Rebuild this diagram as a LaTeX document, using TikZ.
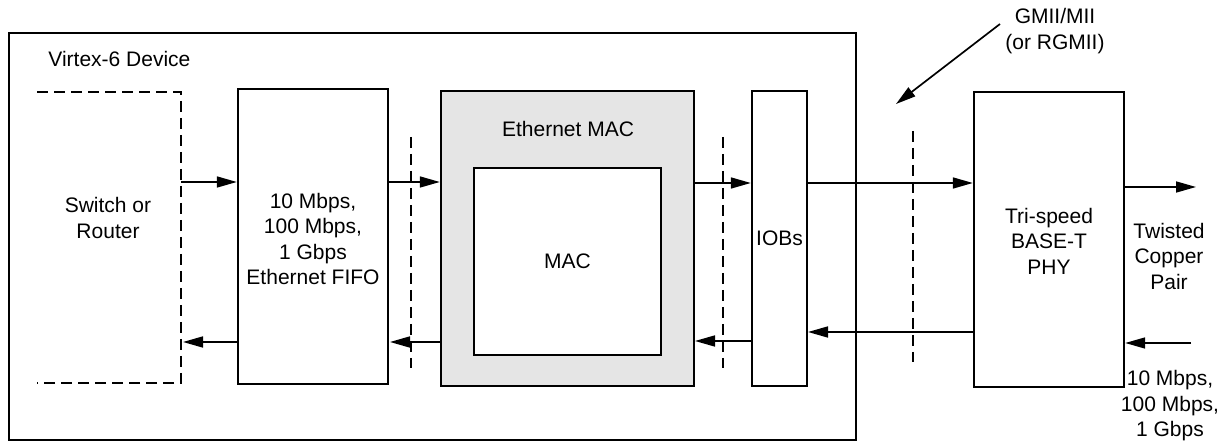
\documentclass[tikz,border=0pt]{standalone}
\usepackage{fontspec}
\setmainfont{Liberation Sans}
\usetikzlibrary{arrows.meta}
\begin{document}
\begin{tikzpicture}[x=0.5pt,y=-0.5pt,
  every node/.append style={font=\fontsize{10.5}{12.75}\selectfont, align=center},
  blk/.style={draw, line width=1.2pt, inner sep=0pt, rectangle},
  arr/.style={line width=0.85pt, -{Triangle[length=10pt,width=5.5pt]}},
  dsh/.style={line width=0.55pt, dash pattern=on 5.5pt off 3pt},
  lbl/.style={inner sep=0pt}]
\useasboundingbox (0,0) rectangle (1225,442);
% device outline
\node[blk, minimum width=423.5pt, minimum height=203.5pt] (dev) at (432.5,236.5) {};
\node[lbl, anchor=west] (devlbl) at (48,59) {Virtex-6 Device};
% switch / router (dashed, open on the left)
\coordinate (swnw) at (37,92);
\coordinate (swne) at (181,92);
\coordinate (swse) at (181,383);
\coordinate (swsw) at (37,383);
\draw[dsh] (swnw) -- (swne) -- (swse) -- (swsw);
\node[lbl] (sw) at (108,218) {Switch or\\Router};
% boxes
\node[blk, minimum width=75pt, minimum height=147.5pt] (fifo) at (313,236.5) {};
\node[lbl] (fifotxt) at (313,239) {10 Mbps,\\100 Mbps,\\1 Gbps\\Ethernet FIFO};
\node[blk, fill=black!10, minimum width=126.5pt, minimum height=147.5pt] (emac) at (567.5,238.5) {};
\node[lbl] (emactxt) at (568,129) {Ethernet MAC};
\node[blk, fill=white, minimum width=93.5pt, minimum height=93.5pt] (mac) at (567.5,261.5) {MAC};
\node[blk, minimum width=27.5pt, minimum height=147.5pt] (iob) at (779.5,238.5) {IOBs};
\node[blk, minimum width=75pt, minimum height=147.5pt] (phy) at (1049,239.5) {};
\node[lbl] (phytxt) at (1049,241) {Tri-speed\\BASE-T\\PHY};
\node[lbl] (tw) at (1169,256) {Twisted\\Copper\\Pair};
\node[lbl] (rate) at (1170,406) {10 Mbps,\\100 Mbps,\\1 Gbps};
\node[lbl] (gm) at (1055,31) {GMII/MII\\(or RGMII)};
% dashed interface lines
\coordinate (d1t) at (411,137); \coordinate (d1b) at (411,368);
\coordinate (d2t) at (723,137); \coordinate (d2b) at (723,368);
\coordinate (d3t) at (913,131); \coordinate (d3b) at (913,362);
\draw[dsh] (d1t) -- (d1b);
\draw[dsh] (d2t) -- (d2b);
\draw[dsh] (d3t) -- (d3b);
% data arrows
\draw[arr] (swne |- 0,182) -- (fifo.west |- 0,182);
\draw[arr] (fifo.west |- 0,342) -- (183,342);
\draw[arr] (fifo.east |- 0,182) -- (emac.west |- 0,182);
\draw[arr] (emac.west |- 0,342) -- (390,342);
\draw[arr] (emac.east |- 0,183) -- (iob.west |- 0,183);
\draw[arr] (iob.west |- 0,341) -- (695,341);
\draw[arr] (iob.east |- 0,183) -- (phy.west |- 0,183);
\draw[arr] (phy.west |- 0,332) -- (808,332);
\coordinate (outend) at (1196,187);
\coordinate (instart) at (1191,343);
\draw[arr] (phy.east |- 0,187) -- (outend);
\draw[arr] (instart) -- (phy.east |- 0,343);
% GMII pointer
\coordinate (gmfrom) at (1000,24);
\coordinate (gmto) at (896,104);
\draw[arr] (gmfrom) -- (gmto);
\end{tikzpicture}
\end{document}
